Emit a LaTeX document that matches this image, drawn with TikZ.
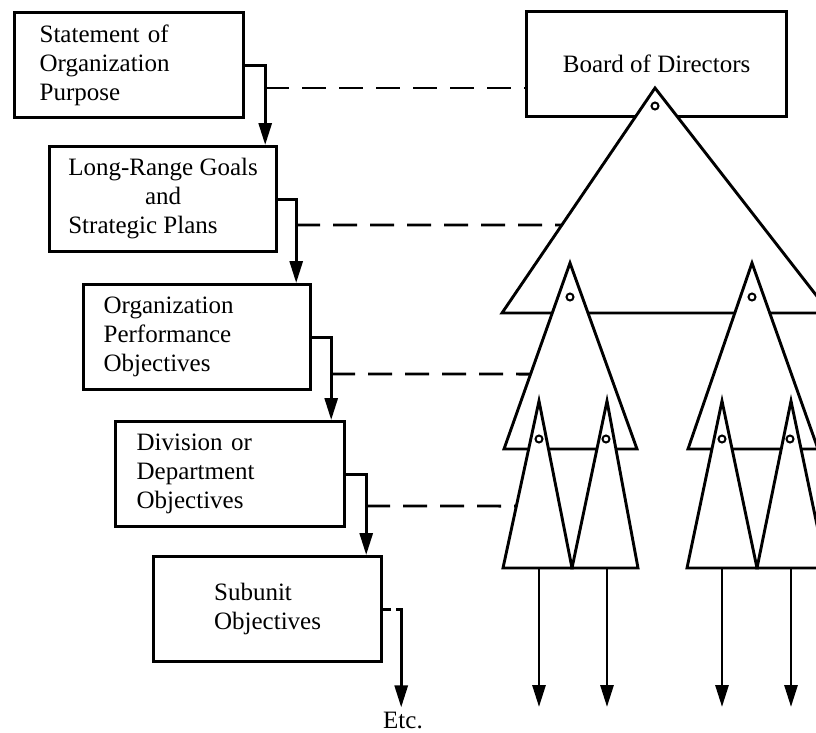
\documentclass[tikz,border=0pt]{standalone}
\usepackage{fontspec}
\setmainfont{Liberation Serif}
\usetikzlibrary{arrows.meta,calc}
\begin{document}
\begin{tikzpicture}[x=1pt,y=-1pt,
  box/.style={draw, line width=3.2pt, minimum height=105pt, inner ysep=0pt,
    font=\fontsize{25}{29}\selectfont},
  conn/.style={line width=2.9pt},
  arr/.style={line width=2.9pt, -{Triangle[length=22pt,width=13pt]}},
  dashline/.style={line width=2.9pt, dash pattern=on 24pt off 13pt},
  tri/.style={line width=2.9pt, fill=white, line join=miter},
  eye/.style={line width=2pt},
  lbl/.style={font=\fontsize{25}{29}\selectfont}]
\useasboundingbox (0,0) rectangle (816,732);
\fill[white] (0,0) rectangle (816,732);
\clip (0,0) rectangle (816,732);

% left column of boxes
\node[box, anchor=north west, text width=179pt, inner xsep=25pt, align=left] (b1) at (13,11)
  {Statement of\\Organization\\Purpose};
\node[box, anchor=north west, minimum width=227pt, align=center] (b2) at (48,145)
  {\begin{tabular}{@{}l@{}}Long-Range Goals\\\multicolumn{1}{@{}c@{}}{and}\\Strategic Plans\end{tabular}};
\node[box, anchor=north west, text width=187pt, inner xsep=20pt, align=left] (b3) at (82,283)
  {Organization\\Performance\\Objectives};
\node[box, anchor=north west, text width=187pt, inner xsep=21pt, align=left] (b4) at (114,420)
  {Division or\\Department\\Objectives};
\node[box, anchor=north west, minimum width=228pt, align=left] (b5) at (152,555)
  {Subunit\\Objectives};
\node[box, anchor=north west, minimum width=260pt] (board) at (525,10)
  {Board of Directors};
\node[lbl, anchor=base, inner sep=4pt] (etc) at (403,728) {Etc.};

% connectors between boxes
\draw[arr] (b1.east) -- ++(20,0) coordinate (j1) -- (j1 |- b2.north);
\draw[arr] (b2.east) -- ++(18,0) coordinate (j2) -- (j2 |- b3.north);
\draw[arr] (b3.east) -- ++(19,0) coordinate (j3) -- (j3 |- b4.north);
\draw[arr] (b4.east) -- ++(20,0) coordinate (j4) -- (j4 |- b5.north);
\draw[conn] (b5.east) -- ++(8,0) coordinate (k5);
\draw[arr] ([xshift=13pt]b5.east) -- ++(5,0) coordinate (j5) -- (j5 |- etc.north);

% triangle vertices
\coordinate (T0a) at (655,88);  \coordinate (T0l) at (502,313); \coordinate (T0r) at (830,313);
\coordinate (T1a) at (570,263); \coordinate (T1l) at (504,449); \coordinate (T1r) at (637,449);
\coordinate (T2a) at (752,263); \coordinate (T2l) at (688,449); \coordinate (T2r) at (818,449);
\coordinate (TAa) at (539,401); \coordinate (TAl) at (503,568); \coordinate (TAr) at (572,568);
\coordinate (TBa) at (607,401); \coordinate (TBl) at (572,568); \coordinate (TBr) at (638,568);
\coordinate (TCa) at (722,401); \coordinate (TCl) at (687,568); \coordinate (TCr) at (757,568);
\coordinate (TDa) at (791,401); \coordinate (TDl) at (757,568); \coordinate (TDr) at (826,568);

% dashed level lines
\coordinate (d1) at (j1 |- 0,88);
\coordinate (d2) at (j2 |- 0,225);
\coordinate (d3) at (j3 |- 0,374);
\coordinate (d4) at (j4 |- 0,506);
\draw[dashline] (d1) -- (d1 -| board.west);
\draw[dashline] (d2) -- ($(T0a)!0.609!(T0l)$);
\draw[dashline] (d3) -- ($(T1a)!0.597!(T1l)$);
\draw[dashline] (d4) -- ($(TAa)!0.629!(TAl)$);

% triangles
\draw[tri] (T0a) -- (T0l) -- (T0r) -- cycle;
\draw[eye] (655,106) circle[radius=3.5pt];
\draw[tri] (T1a) -- (T1l) -- (T1r) -- cycle;
\draw[tri] (T2a) -- (T2l) -- (T2r) -- cycle;
\draw[eye] (570,297) circle[radius=3.5pt];
\draw[eye] (752,297) circle[radius=3.5pt];
\draw[tri] (TAa) -- (TAl) -- (TAr) -- cycle;
\draw[tri] (TBa) -- (TBl) -- (TBr) -- cycle;
\draw[tri] (TCa) -- (TCl) -- (TCr) -- cycle;
\draw[tri] (TDa) -- (TDl) -- (TDr) -- cycle;
\draw[eye] (539,439) circle[radius=3.5pt];
\draw[eye] (606,439) circle[radius=3.5pt];
\draw[eye] (722,439) circle[radius=3.5pt];
\draw[eye] (790,439) circle[radius=3.5pt];

% arrows down from the subunits
\coordinate (aA) at (539,568); \coordinate (aB) at (607,568);
\coordinate (aC) at (722,568); \coordinate (aD) at (791,568);
\draw[arr] (aA) -- ++(0,139);
\draw[arr] (aB) -- ++(0,139);
\draw[arr] (aC) -- ++(0,139);
\draw[arr] (aD) -- ++(0,139);
\end{tikzpicture}
\end{document}
